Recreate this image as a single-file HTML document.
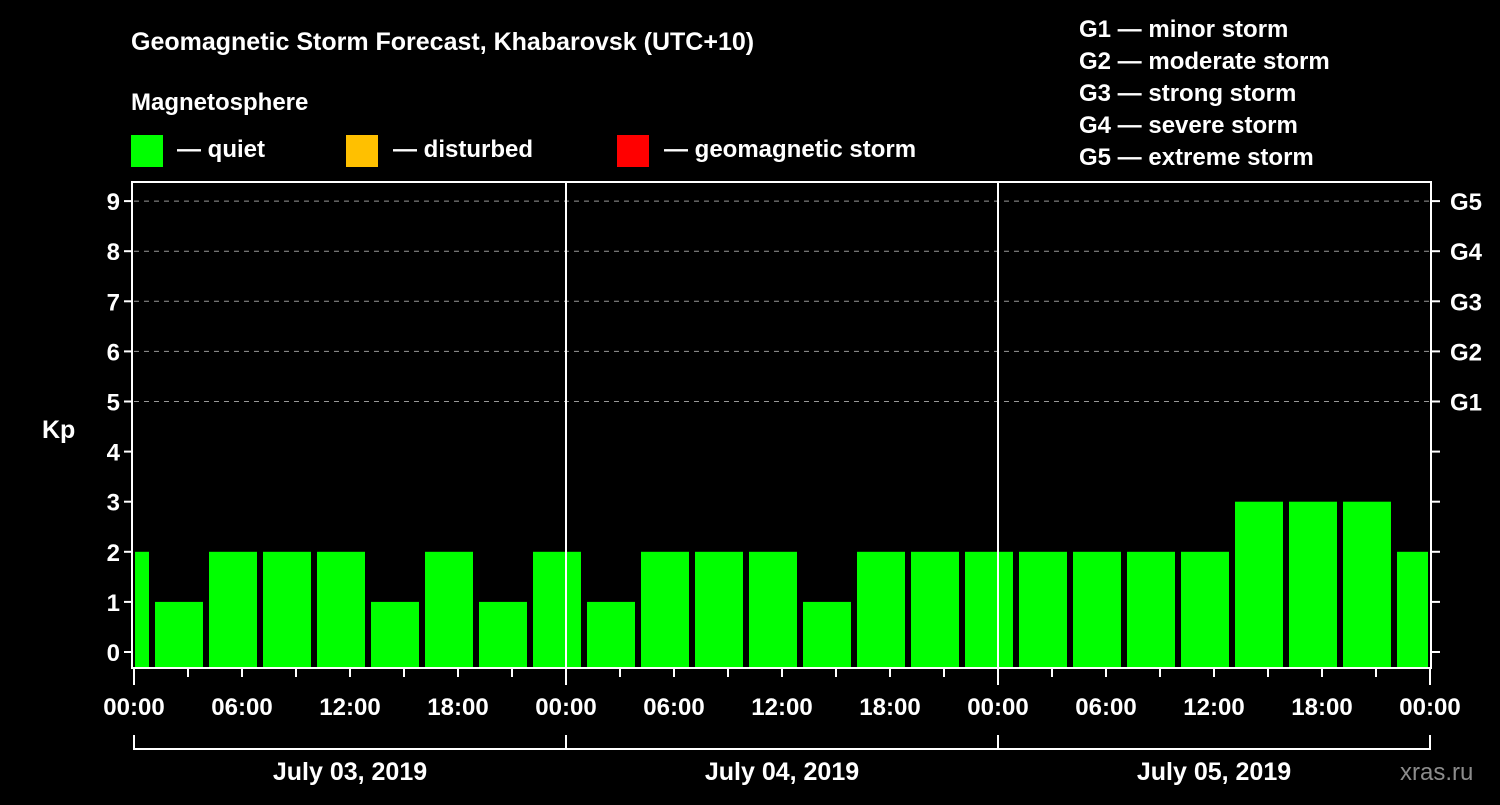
<!DOCTYPE html>
<html><head><meta charset="utf-8"><style>
body{margin:0;background:#000;width:1500px;height:800px;overflow:hidden;font-family:"Liberation Sans",sans-serif;}
svg text{font-family:"Liberation Sans",sans-serif;font-weight:bold;fill:#fff;}
</style></head><body>
<svg id="c" width="1500" height="800" xmlns="http://www.w3.org/2000/svg">
<rect width="1500" height="800" fill="#000"/>
<text x="131" y="50" font-size="25">Geomagnetic Storm Forecast, Khabarovsk (UTC+10)</text>
<text x="131" y="110" font-size="24">Magnetosphere</text>
<g><rect x="131" y="135" width="32" height="32" fill="#00ff00"/><text x="177" y="157" font-size="24">— quiet</text></g>
<g><rect x="346" y="135" width="32" height="32" fill="#ffc000"/><text x="393" y="157" font-size="24">— disturbed</text></g>
<g><rect x="617" y="135" width="32" height="32" fill="#ff0000"/><text x="664" y="157" font-size="24">— geomagnetic storm</text></g>
<g font-size="24">
<text x="1079" y="37">G1 — minor storm</text>
<text x="1079" y="69">G2 — moderate storm</text>
<text x="1079" y="101">G3 — strong storm</text>
<text x="1079" y="133">G4 — severe storm</text>
<text x="1079" y="165">G5 — extreme storm</text>
</g>
<text x="42" y="438" font-size="25">Kp</text>
<text x="1400" y="780" font-size="24" fill="#888" style="fill:#8c8c8c;font-weight:normal">xras.ru</text>
<g id="grid"></g><g id="bars"></g><g id="axes"></g>
</svg>
<script>
const kpValues=[2,1,2,2,2,1,2,1,2,1,2,2,2,1,2,2,2,2,2,2,2,3,3,3,2];
const barStartHours=[-2,1,4,7,10,13,16,19,22,25,28,31,34,37,40,43,46,49,52,55,58,61,64,67,70];
const yTicks=[0,1,2,3,4,5,6,7,8,9];
const gLabels=["G1","G2","G3","G4","G5"];
const gLevels=[5,6,7,8,9];
const xLabels=["00:00","06:00","12:00","18:00","00:00","06:00","12:00","18:00","00:00","06:00","12:00","18:00","00:00"];
const dayLabels=["July 03, 2019","July 04, 2019","July 05, 2019"];
const NS="http://www.w3.org/2000/svg";
const X0=134,X1=1430,T=182,B=668;
const x=h=>X0+h*(X1-X0)/72;
const y=v=>652-v*50.1;
function el(t,a,p){const e=document.createElementNS(NS,t);for(const k in a)e.setAttribute(k,a[k]);document.getElementById(p).appendChild(e);return e;}
gLevels.forEach((v,i)=>{
 const l=el('line',{x1:X0,x2:X1,y1:y(v),y2:y(v),stroke:'#999','stroke-dasharray':'5 5','stroke-width':1},'grid');
 
 
 const t=el('text',{x:1450,y:y(v)+9,'font-size':24},'axes');t.textContent=gLabels[i];
 
 
});
kpValues.forEach((v,i)=>{
 const s=Math.max(x(barStartHours[i])+3,X0+1), e=Math.min(x(barStartHours[i])+51,X1-2);
 const r=el('rect',{x:s,y:y(v),width:e-s,height:B-y(v),fill:'#00ff00'},'bars');
 
 
});
const f=el('rect',{x:X0-2,y:T,width:X1-X0+3,height:B-T,fill:'none',stroke:'#fff','stroke-width':2},'axes');


[24,48].forEach(h=>{const l=el('line',{x1:x(h),x2:x(h),y1:T,y2:B,stroke:'#fff','stroke-width':2},'axes');
 
 });
yTicks.forEach(v=>{
 el('line',{x1:X0-10,x2:X0-2,y1:y(v),y2:y(v),stroke:'#fff','stroke-width':2},'axes');
 el('line',{x1:X1+1,x2:X1+10,y1:y(v),y2:y(v),stroke:'#fff','stroke-width':2},'axes');
 const t=el('text',{x:X0-14,y:y(v)+9,'font-size':24,'text-anchor':'end'},'axes');t.textContent=v;
 
 
});
for(let h=0;h<=72;h+=3){el('line',{x1:x(h),x2:x(h),y1:B,y2:h%24==0?685:677,stroke:'#fff','stroke-width':2},'axes');}
xLabels.forEach((s,i)=>{const t=el('text',{x:x(i*6),y:715,'font-size':24,'text-anchor':'middle'},'axes');t.textContent=s;
 
 });
el('polyline',{points:`${x(0)},735 ${x(0)},749 ${x(72)},749 ${x(72)},735`,fill:'none',stroke:'#fff','stroke-width':2},'axes');
[24,48].forEach(h=>el('line',{x1:x(h),x2:x(h),y1:735,y2:749,stroke:'#fff','stroke-width':2},'axes'));
dayLabels.forEach((s,i)=>{const t=el('text',{x:x(i*24+12),y:780,'font-size':25,'text-anchor':'middle'},'axes');t.textContent=s;
 
 });
</script>
</body></html>
